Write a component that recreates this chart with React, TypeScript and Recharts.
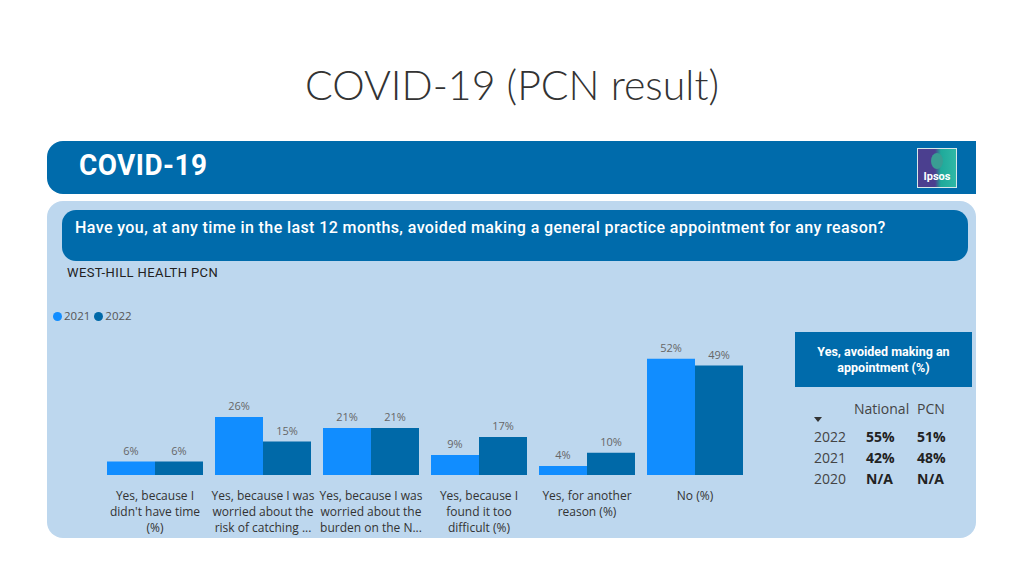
import React from "react";
import { BarChart, Bar, XAxis, YAxis, LabelList } from "recharts";

const categories = [
  "Yes, because I didn't have time (%)",
  "Yes, because I was worried about the risk of catching ...",
  "Yes, because I was worried about the burden on the N...",
  "Yes, because I found it too difficult (%)",
  "Yes, for another reason (%)",
  "No (%)",
];
const tickLines: string[][] = [
  ["Yes, because I", "didn't have time", "(%)"],
  ["Yes, because I was", "worried about the", "risk of catching ..."],
  ["Yes, because I was", "worried about the", "burden on the N..."],
  ["Yes, because I", "found it too", "difficult (%)"],
  ["Yes, for another", "reason (%)"],
  ["No (%)"],
];
const values2021 = [6, 26, 21, 9, 4, 52];
const values2022 = [6, 15, 21, 17, 10, 49];

const tableYears = ["2022", "2021", "2020"];
const tableNational = ["55%", "42%", "N/A"];
const tablePCN = ["51%", "48%", "N/A"];

const data = categories.map((c, i) => ({ name: c, y2021: values2021[i], y2022: values2022[i], idx: i }));

const C2021 = "#118dff";
const C2022 = "#0069a8";
const HEAD = "#006bab";
const PANEL = "#bdd7ee";
const DIN = "Roboto, 'DejaVu Sans', sans-serif";
const UI = "'Open Sans', 'Noto Sans', sans-serif";

const Tick = (props: any) => {
  const { x, y, payload } = props;
  const lines = tickLines[payload.index] || [payload.value];
  return (
    <text x={x} y={y} textAnchor="middle" fill="#333" fontSize={12} fontFamily={UI}>
      {lines.map((l, i) => (
        <tspan key={i} x={x} y={y + 17 + i * 16}>{l}</tspan>
      ))}
    </text>
  );
};

export default function App() {
  return (
    <div style={{ position: "absolute", left: 0, top: 0, width: 1024, height: 576, background: "#fff", overflow: "hidden" }}>
      <div style={{ position: "absolute", left: 0, width: 1024, top: 57, textAlign: "center", fontFamily: "Lato, 'Open Sans', sans-serif", fontWeight: 300, fontSize: 41, color: "#333", lineHeight: "56px" }}>
        COVID-19 (PCN result)
      </div>
      {/* header band */}
      <div style={{ position: "absolute", left: 47, top: 141, width: 929, height: 53, background: HEAD, borderRadius: "16px 0 0 16px" }} />
      <div style={{ position: "absolute", left: 79, top: 145, fontFamily: DIN, fontWeight: 700, fontSize: 30, color: "#fff", lineHeight: "40px", letterSpacing: 0.5, transform: "scaleX(0.93)", transformOrigin: "left center" }}>COVID-19</div>
      <div style={{ position: "absolute", left: 917, top: 148, width: 38, height: 38, background: "linear-gradient(90deg, #4b3f8f 0%, #4b3f8f 45%, #1fa99a 60%, #2fb8a6 100%)", border: "1px solid #d8e8ea" }}>
        <div style={{ position: "absolute", left: 13, top: 4, width: 12, height: 16, borderRadius: "50%", background: "#3a9d93" }} />
        <div style={{ position: "absolute", left: 0, top: 21, width: 38, textAlign: "center", color: "#fff", fontFamily: DIN, fontWeight: 700, fontSize: 11 }}>Ipsos</div>
      </div>
      {/* light panel */}
      <div style={{ position: "absolute", left: 47, top: 201, width: 929, height: 337, background: PANEL, borderRadius: 16 }} />
      <div style={{ position: "absolute", left: 62, top: 210, width: 906, height: 51, background: HEAD, borderRadius: 14 }} />
      <div style={{ position: "absolute", left: 75, top: 218, fontFamily: DIN, fontWeight: 500, fontSize: 16, color: "#fff", lineHeight: "20px", letterSpacing: 0.4, whiteSpace: "nowrap" }}>
        Have you, at any time in the last 12 months, avoided making a general practice appointment for any reason?
      </div>
      <div style={{ position: "absolute", left: 67, top: 265, fontFamily: DIN, fontWeight: 400, fontSize: 13, color: "#222", lineHeight: "16px", letterSpacing: 0.4 }}>WEST-HILL HEALTH PCN</div>
      {/* legend */}
      <div style={{ position: "absolute", left: 53, top: 309, fontFamily: UI, fontSize: 11.5, color: "#555", lineHeight: "14px", display: "flex", alignItems: "center" }}>
        <span style={{ width: 9, height: 9, borderRadius: "50%", background: C2021, display: "inline-block", marginRight: 2 }} />
        <span style={{ marginRight: 4 }}>2021</span>
        <span style={{ width: 9, height: 9, borderRadius: "50%", background: C2022, display: "inline-block", marginRight: 2 }} />
        <span>2022</span>
      </div>
      {/* chart */}
      <div style={{ position: "absolute", left: 0, top: 0 }}>
        <BarChart width={1024} height={576} data={data} margin={{ top: 341, right: 275, bottom: 41, left: 101 }} barCategoryGap={6} barGap={0}>
          <XAxis dataKey="name" axisLine={false} tickLine={false} height={60} interval={0} tick={<Tick />} />
          <YAxis hide domain={[0, 60]} />
          <Bar dataKey="y2021" fill={C2021} isAnimationActive={false}>
            <LabelList dataKey="y2021" position="top" offset={7} formatter={(v: any) => `${v}%`} fill="#666" fontSize={11} fontFamily={UI} />
          </Bar>
          <Bar dataKey="y2022" fill={C2022} isAnimationActive={false}>
            <LabelList dataKey="y2022" position="top" offset={7} formatter={(v: any) => `${v}%`} fill="#666" fontSize={11} fontFamily={UI} />
          </Bar>
        </BarChart>
      </div>
      {/* right table */}
      <div style={{ position: "absolute", left: 795, top: 332, width: 177, height: 55, background: HEAD, color: "#fff", fontFamily: DIN, fontWeight: 700, fontSize: 12.5, textAlign: "center", display: "flex", alignItems: "center", justifyContent: "center", lineHeight: "16px" }}>
        <div>Yes, avoided making an<br />appointment (%)</div>
      </div>
      <div style={{ position: "absolute", left: 854, top: 400, fontFamily: UI, fontSize: 14, color: "#444", lineHeight: "18px" }}>National</div>
      <div style={{ position: "absolute", left: 917, top: 400, fontFamily: UI, fontSize: 14, color: "#444", lineHeight: "18px" }}>PCN</div>
      <div style={{ position: "absolute", left: 814, top: 417, width: 0, height: 0, borderLeft: "4px solid transparent", borderRight: "4px solid transparent", borderTop: "5px solid #333" }} />
      {tableYears.map((yr, i) => (
        <React.Fragment key={yr}>
          <div style={{ position: "absolute", left: 814, top: 428 + i * 21, fontFamily: UI, fontSize: 14, color: "#444", lineHeight: "18px" }}>{yr}</div>
          <div style={{ position: "absolute", left: 866, top: 428 + i * 21, fontFamily: UI, fontWeight: 700, fontSize: 14, color: "#222", lineHeight: "18px" }}>{tableNational[i]}</div>
          <div style={{ position: "absolute", left: 917, top: 428 + i * 21, fontFamily: UI, fontWeight: 700, fontSize: 14, color: "#222", lineHeight: "18px" }}>{tablePCN[i]}</div>
        </React.Fragment>
      ))}
    </div>
  );
}
